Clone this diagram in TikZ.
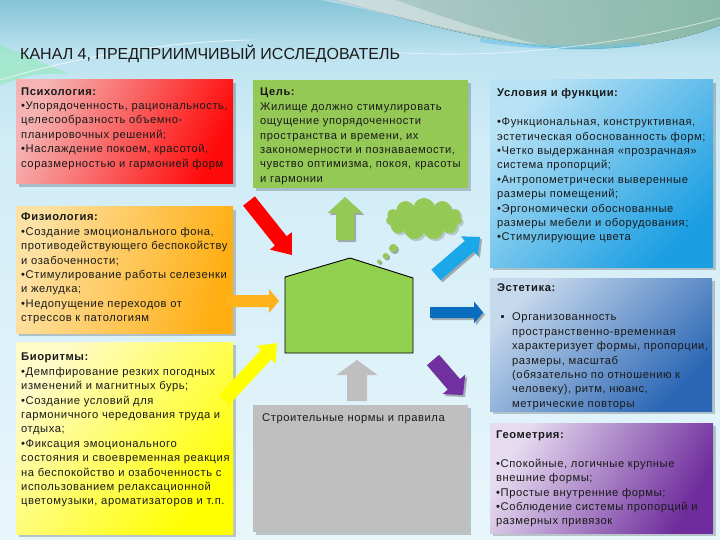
\documentclass[tikz,border=0pt]{standalone}
\usepackage{fontspec}
\setmainfont{Liberation Sans}
\newfontfamily\bodyfont[LetterSpace=5]{Liberation Sans}
\usetikzlibrary{calc,shapes.symbols,shadows}
\definecolor{bgT}{HTML}{84C4D6}
\definecolor{bgM2}{HTML}{BEE3F0}
\definecolor{bgM}{HTML}{D0ECF7}
\definecolor{bgB}{HTML}{E8F6FB}
\definecolor{grn}{HTML}{95C956}
\definecolor{housec}{HTML}{92D050}
\definecolor{redL}{HTML}{F5B3B3}
\definecolor{redD}{HTML}{FF0A0A}
\definecolor{orL}{HTML}{FDE2A6}
\definecolor{orD}{HTML}{FFAE12}
\definecolor{yeL}{HTML}{FFFBC8}
\definecolor{yeD}{HTML}{FFFF00}
\definecolor{blL}{HTML}{B8E2F5}
\definecolor{blD}{HTML}{1B9EE2}
\definecolor{stL}{HTML}{C6D8EC}
\definecolor{stD}{HTML}{2A66B4}
\definecolor{puL}{HTML}{E6DCF0}
\definecolor{puD}{HTML}{6E2C9C}
\definecolor{gry}{HTML}{BFBFBF}
\definecolor{arRed}{HTML}{FF0000}
\definecolor{arOr}{HTML}{FFB21A}
\definecolor{arYe}{HTML}{FFFF00}
\definecolor{arLb}{HTML}{1AA8E8}
\definecolor{arDb}{HTML}{0A6CBE}
\definecolor{arPu}{HTML}{7030A0}
\definecolor{txt}{HTML}{1A1A1A}
\definecolor{topG}{HTML}{9ED5C0}
\definecolor{topP}{HTML}{CFEAEE}
\pgfdeclareverticalshading{bgshade}{100bp}{color(0bp)=(bgB); color(25bp)=(bgB); color(62bp)=(bgM); color(70bp)=(bgM2); color(75bp)=(bgT); color(100bp)=(bgT)}
% block arrow: #1 style, #2 start, #3 tip, #4 half shaft, #5 half head, #6 head length
\newcommand{\blockarrow}[6]{%
  \coordinate (bab) at ($(#3)!#6!(#2)$);
  \fill[#1] ($(#2)!#4!90:(#3)$) -- ($(bab)!#4!90:(#3)$) -- ($(bab)!#5!90:(#3)$) -- (#3)
    -- ($(bab)!#5!-90:(#3)$) -- ($(bab)!#4!-90:(#3)$) -- ($(#2)!#4!-90:(#3)$) -- cycle;}
\begin{document}
\begin{tikzpicture}[x=1pt,y=-1pt,
  body/.style={anchor=north west, inner sep=0pt, align=left, font=\bodyfont\fontsize{11.2}{14.4}\selectfont, text=txt},
  oneline/.style={anchor=base west, inner sep=0pt, font=\bodyfont\fontsize{11.2}{14.4}\selectfont, text=txt},
  boxshadow/.style={fill=black, opacity=.2},
  gradbox/.style n args={3}{shade, top color=#1, bottom color=#2, shading angle=#3},
  arshadow/.style={fill=black!55, opacity=.55}]
\useasboundingbox (0,0) rectangle (720,540);
% background
\fill[shading=bgshade] (0,0) rectangle (720,540);
\fill[left color=topP, right color=topG, opacity=.85] (335,0) .. controls (420,22) and (480,42) .. (560,48) .. controls (630,52) and (690,38) .. (720,25) -- (720,0) -- cycle;
\fill[white, opacity=.35] (320,0) .. controls (400,15) and (460,35) .. (545,46) .. controls (470,28) and (425,10) .. (395,0) -- cycle;
\draw[arLb!70, line width=4, opacity=.5] (480,40) .. controls (530,48) and (590,50) .. (640,44);
\fill[green!25!bgM2, opacity=.55] (0,45) .. controls (20,52) and (45,64) .. (70,74) .. controls (45,72) and (20,76) .. (0,86) -- cycle;
\draw[white, opacity=.7, line width=.8] (0,80) .. controls (60,62) and (150,42) .. (250,40);
\draw[white, opacity=.6, line width=.8] (390,52) .. controls (500,60) and (620,45) .. (720,18);
% title
\node[anchor=base west, inner sep=0pt, font=\fontsize{16}{19}\selectfont, text=txt] (title) at (20,60) {КАНАЛ 4, ПРЕДПРИИМЧИВЫЙ ИССЛЕДОВАТЕЛЬ};
% box shadows
\foreach \a/\b/\c/\d in {16/80/233/184, 16/207/233/333, 16/342/233/534, 253/80/468/188, 490/80/713/267, 490/278/712/411, 490/423/713/533, 253/405/468/532}
  \fill[boxshadow] (\a+3,\b+3) rectangle (\c+3,\d+3);
% boxes
\fill[gradbox={redL}{redD}{65}] (16,80) rectangle (233,184);
\fill[gradbox={orL}{orD}{75}] (16,207) rectangle (233,333);
\fill[gradbox={yeL}{yeD}{50}] (16,342) rectangle (233,534);
\fill[grn] (253,80) rectangle (468,188);
\fill[gradbox={blL}{blD}{45}] (490,80) rectangle (713,267);
\fill[gradbox={stL}{stD}{45}] (490,278) rectangle (712,411);
\fill[gradbox={puL}{puD}{60}] (490,423) rectangle (713,533);
\fill[gry] (253,405) rectangle (468,532);
% texts
\node[body] (psy) at (21,84.9) {\strut\textbf{Психология:}\\•Упорядоченность, рациональность,\\целесообразность объемно-\\планировочных решений;\\•Наслаждение покоем, красотой,\\соразмерностью и гармонией форм};
\node[body] (fiz) at (21,210.6) {\strut\textbf{Физиология:}\\•Создание эмоционального фона,\\противодействующего беспокойству\\и озабоченности;\\•Стимулирование работы селезенки\\и желудка;\\•Недопущение переходов от\\стрессов к патологиям};
\node[body] (bio) at (21,350.6) {\strut\textbf{Биоритмы:}\\•Демпфирование резких погодных\\изменений и магнитных бурь;\\•Создание условий для\\гармоничного чередования труда и\\отдыха;\\•Фиксация эмоционального\\состояния и своевременная реакция\\на беспокойство и озабоченность с\\использованием релаксационной\\цветомузыки, ароматизаторов и т.п.};
\node[body] (goal) at (260,85.6) {\strut\textbf{Цель:}\\Жилище должно стимулировать\\ощущение упорядоченности\\пространства и времени, их\\закономерности и познаваемости,\\чувство оптимизма, покоя, красоты\\и гармонии};
\node[body] (cond) at (497,86.6) {\strut\textbf{Условия и функции:}\\ \\•Функциональная, конструктивная,\\эстетическая обоснованность форм;\\•Четко выдержанная «прозрачная»\\система пропорций;\\•Антропометрически выверенные\\размеры помещений;\\•Эргономически обоснованные\\размеры мебели и оборудования;\\•Стимулирующие цвета};
\node[body] (est) at (497,281.6) {\strut\textbf{Эстетика:}};
\node[oneline] (estb) at (500.5,320.7) {▪};
\node[body] (estt) at (512,310.6) {\strut Организованность\\пространственно-временная\\характеризует формы, пропорции,\\размеры, масштаб\\(обязательно по отношению к\\человеку), ритм, нюанс,\\метрические повторы};
\node[body] (geo) at (496,428.2) {\strut\textbf{Геометрия:}\\ \\•Спокойные, логичные крупные\\внешние формы;\\•Простые внутренние формы;\\•Соблюдение системы пропорций и\\размерных привязок};
\node[oneline] (snip) at (262,421.7) {Строительные нормы и правила};
% house
\coordinate (hBL) at (285,353);
\coordinate (hTL) at (285,277);
\coordinate (hA) at (350,258);
\coordinate (hTR) at (413,278);
\coordinate (hBR) at (413,353);
\draw[fill=housec, line width=.9] (hBL) -- (hTL) -- (hA) -- (hTR) -- (hBR) -- cycle;
% cloud
\node[cloud, cloud puffs=11, aspect=1.9, fill=grn, inner sep=0pt, minimum width=76pt, minimum height=42pt, drop shadow={shadow xshift=2pt, shadow yshift=-2pt, opacity=.35}] (cloud) at (424,219) {};
\foreach \x/\y/\r [count=\i] in {393.3/248.3/4.3, 385.7/256/3, 379/261.5/2}
  {\fill[black, opacity=.3] (\x+1.5,\y+1.5) circle (\r); \fill[grn] (\x,\y) circle (\r);}
% arrow end points
\coordinate (gS) at (345,240); \coordinate (gE) at (345,197);
\coordinate (rS) at (249,201); \coordinate (rE) at (292,255);
\coordinate (oS) at (226,301); \coordinate (oE) at (279,301);
\coordinate (yS) at (224,400); \coordinate (yE) at (277,343);
\coordinate (sS) at (357,401); \coordinate (sE) at (357,360);
\coordinate (lS) at (436,275); \coordinate (lE) at (480,237);
\coordinate (dS) at (430,312.5); \coordinate (dE) at (483,312.5);
\coordinate (pS) at (433,360); \coordinate (pE) at (463,395);
% shadows of arrows
\begin{scope}[transform canvas={xshift=2pt,yshift=-2pt}]
\blockarrow{arshadow}{gS}{gE}{9pt}{17.5pt}{16pt}
\blockarrow{arshadow}{lS}{lE}{7pt}{13pt}{14pt}
\blockarrow{arshadow}{dS}{dE}{5.5pt}{11pt}{9pt}
\blockarrow{arshadow}{pS}{pE}{8pt}{15pt}{14pt}
\end{scope}
% arrows
\blockarrow{fill=grn}{gS}{gE}{9pt}{17.5pt}{16pt}
\blockarrow{fill=arRed}{rS}{rE}{7.5pt}{14pt}{18pt}
\blockarrow{fill=arOr}{oS}{oE}{6pt}{12pt}{10pt}
\blockarrow{fill=arYe}{yS}{yE}{7pt}{13pt}{16pt}
\blockarrow{fill=gry}{sS}{sE}{10pt}{20.5pt}{15pt}
\blockarrow{fill=arLb}{lS}{lE}{7pt}{13pt}{14pt}
\blockarrow{fill=arDb}{dS}{dE}{5.5pt}{11pt}{9pt}
\blockarrow{fill=arPu}{pS}{pE}{8pt}{15pt}{14pt}
\end{tikzpicture}
\end{document}
